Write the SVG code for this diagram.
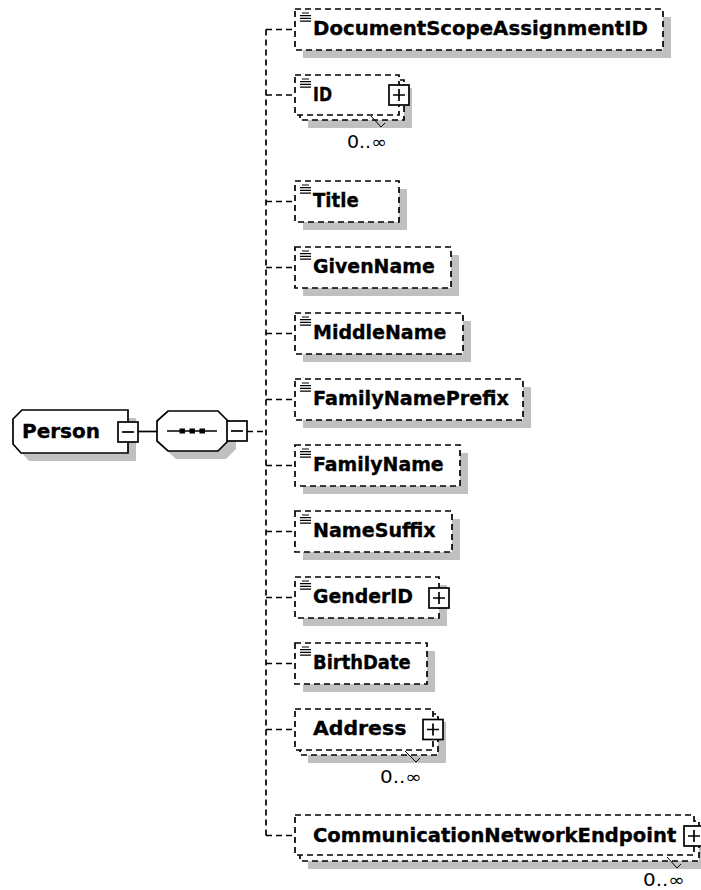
<svg xmlns="http://www.w3.org/2000/svg" xmlns:xlink="http://www.w3.org/1999/xlink" width="701" height="890" viewBox="0 0 701 890">
<style>
.bx{fill:#fff;stroke:#000;stroke-width:1.7;stroke-dasharray:6 4}
.sb{fill:#fff;stroke:#000;stroke-width:1.7}
.sh{fill:#c0c0c0;stroke:none}
.cn{fill:none;stroke:#000;stroke-width:1.7;stroke-dasharray:6 4}
.cs{fill:none;stroke:#000;stroke-width:1.7}
.lb{font-family:"DejaVu Sans","Liberation Sans",sans-serif;font-weight:bold;font-size:19.5px;fill:#000;stroke:#000;stroke-width:0.35}
.oc{font-family:"DejaVu Sans","Liberation Sans",sans-serif;font-size:17px;fill:#000}
.tk{fill:none;stroke:#000;stroke-width:1}
</style>
<defs>
<g id="ico"><path d="M3 0h7M1 2.7h11M1 5.4h11M1 8.1h11" stroke="#000" stroke-width="1.2" fill="none"/></g>
<g id="plus"><rect x="-10" y="-10" width="20" height="20" fill="#fff" stroke="#000" stroke-width="1.7"/><path d="M-6 0h12M0 -6v12" stroke="#000" stroke-width="1.7"/></g>
<g id="minus"><rect x="-10" y="-10" width="20" height="20" fill="#fff" stroke="#000" stroke-width="1.7"/><path d="M-6 0h12" stroke="#000" stroke-width="1.7"/></g>
</defs>
<g id="connectors">
<path class="cs" d="M138 431.5H157"/>
<path class="cn" d="M247 431.5H266M266 29.5V836"/>
<path class="cn" d="M266 29.5H295M266 95H295M266 201.5H295M266 267.5H295M266 333.5H295M266 399.5H295M266 465.5H295M266 531.5H295M266 597.5H295M266 663.5H295M266 729.5H295M266 835.5H295"/>
</g>
<g id="Person">
<polygon class="sh" points="30,418 136,418 136,461 29,461 21,452 21,427"/>
<polygon class="sb" points="22,410 128,410 128,453 21,453 13,444 13,419"/>
<text class="lb" x="22" y="438" font-size="20" textLength="78" lengthAdjust="spacingAndGlyphs">Person</text>
<use xlink:href="#minus" x="128" y="432"/>
</g>
<g id="sequence">
<polygon class="sh" points="176,419 226,419 236,429 236,449 226,459 176,459 165,449 165,429"/>
<polygon class="sb" points="168,411 218,411 228,421 228,441 218,451 168,451 157,441 157,421"/>
<path class="cs" d="M167 431H217"/>
<rect x="179.5" y="428.5" width="5.5" height="5" fill="#000"/>
<rect x="189.5" y="428.5" width="5.5" height="5" fill="#000"/>
<rect x="199.5" y="428.5" width="5.5" height="5" fill="#000"/>
<use xlink:href="#minus" x="237" y="431"/>
</g>
<g id="DocumentScopeAssignmentID">
<rect class="sh" x="303" y="17" width="368" height="41"/>
<rect class="bx" x="295" y="9" width="368" height="41"/>
<use xlink:href="#ico" x="299" y="13"/>
<text class="lb" x="313" y="35" textLength="335" lengthAdjust="spacingAndGlyphs">DocumentScopeAssignmentID</text>
</g>
<g id="ID">
<rect class="sh" x="308" y="88" width="104" height="40"/>
<rect class="bx" x="300" y="80" width="104" height="40"/>
<rect class="bx" x="295" y="75" width="104" height="40"/>
<use xlink:href="#ico" x="299" y="79"/>
<text class="lb" x="313" y="101" textLength="19" lengthAdjust="spacingAndGlyphs">ID</text>
<use xlink:href="#plus" x="399" y="95"/>
<polyline class="tk" points="371,116 381,127 385,123"/>
<text class="oc" x="347" y="148" textLength="40" lengthAdjust="spacingAndGlyphs">0..∞</text>
</g>
<g id="Title">
<rect class="sh" x="303" y="189" width="104" height="41"/>
<rect class="bx" x="295" y="181" width="104" height="41"/>
<use xlink:href="#ico" x="299" y="185"/>
<text class="lb" x="313" y="207" textLength="45.7" lengthAdjust="spacingAndGlyphs">Title</text>
</g>
<g id="GivenName">
<rect class="sh" x="303" y="255" width="156" height="41"/>
<rect class="bx" x="295" y="247" width="156" height="41"/>
<use xlink:href="#ico" x="299" y="251"/>
<text class="lb" x="313" y="273" textLength="121.7" lengthAdjust="spacingAndGlyphs">GivenName</text>
</g>
<g id="MiddleName">
<rect class="sh" x="303" y="321" width="168" height="41"/>
<rect class="bx" x="295" y="313" width="168" height="41"/>
<use xlink:href="#ico" x="299" y="317"/>
<text class="lb" x="313" y="339" textLength="133.3" lengthAdjust="spacingAndGlyphs">MiddleName</text>
</g>
<g id="FamilyNamePrefix">
<rect class="sh" x="303" y="387" width="228" height="41"/>
<rect class="bx" x="295" y="379" width="228" height="41"/>
<use xlink:href="#ico" x="299" y="383"/>
<text class="lb" x="313" y="405" textLength="196" lengthAdjust="spacingAndGlyphs">FamilyNamePrefix</text>
</g>
<g id="FamilyName">
<rect class="sh" x="303" y="453" width="165" height="41"/>
<rect class="bx" x="295" y="445" width="165" height="41"/>
<use xlink:href="#ico" x="299" y="449"/>
<text class="lb" x="313" y="471" textLength="130.7" lengthAdjust="spacingAndGlyphs">FamilyName</text>
</g>
<g id="NameSuffix">
<rect class="sh" x="303" y="519" width="157" height="41"/>
<rect class="bx" x="295" y="511" width="157" height="41"/>
<use xlink:href="#ico" x="299" y="515"/>
<text class="lb" x="313" y="537" textLength="122.7" lengthAdjust="spacingAndGlyphs">NameSuffix</text>
</g>
<g id="GenderID">
<rect class="sh" x="303" y="585" width="144" height="41"/>
<rect class="bx" x="295" y="577" width="144" height="41"/>
<use xlink:href="#ico" x="299" y="581"/>
<text class="lb" x="313" y="603" textLength="100" lengthAdjust="spacingAndGlyphs">GenderID</text>
<use xlink:href="#plus" x="439" y="598"/>
</g>
<g id="BirthDate">
<rect class="sh" x="303" y="651" width="132" height="41"/>
<rect class="bx" x="295" y="643" width="132" height="41"/>
<use xlink:href="#ico" x="299" y="647"/>
<text class="lb" x="313" y="669" textLength="97.7" lengthAdjust="spacingAndGlyphs">BirthDate</text>
</g>
<g id="Address">
<rect class="sh" x="308" y="722" width="138" height="41"/>
<rect class="bx" x="300" y="714" width="138" height="41"/>
<rect class="bx" x="295" y="709" width="138" height="41"/>
<text class="lb" x="313" y="735" textLength="93.3" lengthAdjust="spacingAndGlyphs">Address</text>
<use xlink:href="#plus" x="433" y="729.5"/>
<polyline class="tk" points="405,751 416,762 420,758"/>
<text class="oc" x="380" y="783" textLength="42" lengthAdjust="spacingAndGlyphs">0..∞</text>
</g>
<g id="CommunicationNetworkEndpoint">
<rect class="sh" x="308" y="829" width="399" height="40"/>
<rect class="bx" x="300" y="821" width="399" height="40"/>
<rect class="bx" x="295" y="815" width="399" height="40"/>
<text class="lb" x="313" y="842" textLength="363.3" lengthAdjust="spacingAndGlyphs">CommunicationNetworkEndpoint</text>
<use xlink:href="#plus" x="694" y="836"/>
<polyline class="tk" points="667,857 677,868 681,864"/>
<text class="oc" x="643" y="886" textLength="42" lengthAdjust="spacingAndGlyphs">0..∞</text>
</g>
</svg>
